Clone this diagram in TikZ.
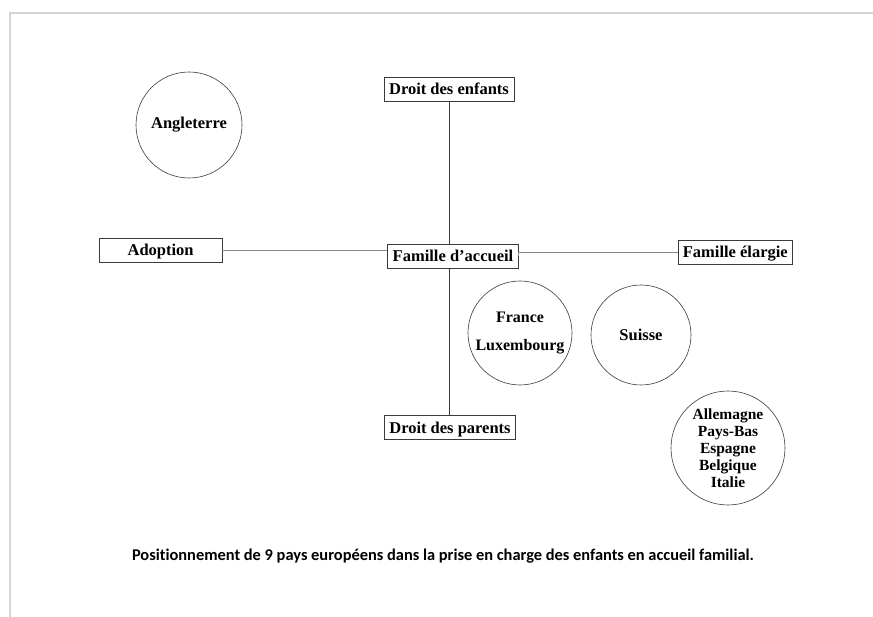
\documentclass[tikz,border=0pt]{standalone}
\usepackage{fontspec}
\setmainfont{Liberation Serif}
\newfontfamily\captionfont[Ligatures=NoCommon]{Carlito}
\usetikzlibrary{positioning}
\definecolor{inkgray}{HTML}{3a3a3a}
\definecolor{axisgray}{HTML}{8a8a8a}
\definecolor{framegray}{HTML}{d4d4d4}

\begin{document}
\begin{tikzpicture}[x=1pt, y=-1pt, font=\fontsize{16.5}{18}\selectfont\bfseries,
    axisbox/.style={draw=inkgray, line width=0.6pt, minimum height=24pt, text height=13pt, text depth=2pt, inner xsep=5pt, align=center},
    country/.style={draw=inkgray, line width=0.6pt, circle, align=center, inner sep=0pt},
    axisline/.style={axisgray, line width=0.9pt}]
\useasboundingbox (0,0) rectangle (873,617);
% page edge of the scan
\draw[framegray, line width=1.6pt] (10,617) -- (10,13) -- (873,13);
% axes
\node[axisbox] (accueil) at (453,256) {Famille d'accueil};
\node[axisbox, above=142pt of accueil, xshift=-4pt] (enfants) {Droit des enfants};
\node[axisbox, below=147pt of accueil, xshift=-3pt] (parents) {Droit des parents};
\node[axisbox, minimum width=123pt, left=165pt of accueil, yshift=6pt] (adoption) {Adoption};
\node[axisbox, right=159pt of accueil, yshift=4pt] (elargie) {Famille élargie};
\draw[axisline, inkgray] (enfants.south) -- (enfants.south |- accueil.north);
\draw[axisline, inkgray] (accueil.south -| enfants.south) -- (parents.north -| enfants.south);
\draw[axisline] (adoption.east) -- (adoption.east -| accueil.west);
\draw[axisline] (accueil.east) -- (accueil.east |- elargie.west) -- (elargie.west);
% countries
\node[country, minimum size=106pt] (angleterre) at (189,125) {Angleterre};
\node[country, minimum size=104pt, font=\fontsize{16}{28}\selectfont\bfseries] (france) at (520,333) {France\\Luxembourg};
\node[country, minimum size=100pt] (suisse) at (641,335) {Suisse};
\node[country, minimum size=114pt, font=\fontsize{15.5}{17}\selectfont\bfseries] (autres) at (728,448) {Allemagne\\Pays-Bas\\Espagne\\Belgique\\Italie};
% caption
\node[font=\captionfont\fontsize{16.4}{18}\selectfont\bfseries] (legende) at (443,556) {Positionnement de 9 pays européens dans la prise en charge des enfants en accueil familial.};
\end{tikzpicture}
\end{document}
